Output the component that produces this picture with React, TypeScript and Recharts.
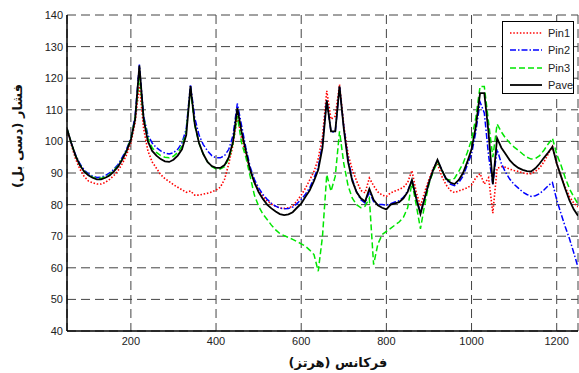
import React from 'react';
import {
  LineChart, Line, XAxis, YAxis, CartesianGrid,
} from 'recharts';

const FREQ = [
  50, 60, 70, 80, 90, 100, 110, 120, 130, 140, 150, 160, 170, 180, 190, 200, 210, 220, 230, 240,
  250, 260, 270, 280, 290, 300, 310, 320, 330, 340, 350, 360, 370, 380, 390, 400, 410, 420, 430, 440,
  450, 460, 470, 480, 490, 500, 510, 520, 530, 540, 550, 560, 570, 580, 590, 600, 610, 620, 630, 640,
  650, 660, 670, 680, 690, 700, 710, 720, 730, 740, 750, 760, 770, 780, 790, 800, 810, 820, 830, 840,
  850, 860, 870, 880, 890, 900, 910, 920, 930, 940, 950, 960, 970, 980, 990, 1000, 1010, 1020, 1030, 1040,
  1050, 1060, 1070, 1080, 1090, 1100, 1110, 1120, 1130, 1140, 1150, 1160, 1170, 1180, 1190, 1200, 1210, 1220, 1230, 1240,
  1250,
];

const PIN1 = [
  104, 99, 94.5, 91.3, 89, 87.5, 86.9, 86.5, 86.5, 87, 88, 89.2, 90.8, 93, 95.8, 99.5, 106, 118, 104, 97,
  93.5, 91.5, 89.5, 88.2, 87.3, 86.3, 85.5, 84.7, 83.9, 84.3, 83, 83, 83.3, 83.6, 84, 84.6, 85.5, 88, 93, 99,
  108, 101, 96, 91, 87, 84.5, 82.5, 81.2, 80.2, 79.4, 78.9, 78.8, 79, 79.5, 81.2, 83, 85.2, 87.8, 90.5, 94.5,
  101.5, 116, 107, 108, 118, 105, 96, 91, 87.5, 84.5, 83.7, 88.4, 86, 84, 83, 82.6, 83.7, 84.3, 84.8, 85.5,
  87, 90.8, 84, 79.5, 84, 88, 91.5, 93, 89, 86.3, 84.5, 83.8, 84.3, 84.8, 85.3, 86.2, 88.5, 89.8, 86.5, 88.5,
  77.3, 91.5, 92, 91.8, 91.2, 90.8, 90.5, 90, 89.8, 89.8, 90.5, 91.6, 93.5, 96, 98.4, 93, 89, 85.5, 82.5, 80.5,
  79.3,
];

const PIN2 = [
  104, 99.5, 95.8, 93, 91, 89.8, 89, 88.6, 88.7, 89.2, 90, 91.2, 92.7, 95, 97.6, 101, 108, 124.3, 108, 102,
  99.5, 98, 97, 96.3, 96, 96.4, 97.5, 99.5, 104, 118, 107.5, 102, 99, 97, 95.5, 94.8, 94.8, 95.5, 97.5, 102,
  112, 105, 98, 92, 88, 85.3, 83.2, 81.7, 80.4, 79.5, 78.9, 78.7, 78.8, 79.2, 80.3, 81.6, 83.3, 85.3, 88.4, 92,
  99, 113, 103, 103, 117.4, 104.5, 94.5, 88, 84, 81.5, 80.5, 84, 81, 80, 80, 79.8, 80.3, 80.8, 81.2, 82.3,
  84.3, 87.8, 82, 77.5, 82, 87, 91, 94, 91, 88, 86.5, 86, 87, 89, 92.5, 96, 103, 112.5, 109, 95.5,
  86.5, 97.5, 93, 90.2, 88, 86.4, 85.2, 84, 83.2, 82.6, 82.8, 83.5, 84.6, 86, 87, 81.5, 77.2, 73, 69.2, 64.8,
  60.2,
];

const PIN3 = [
  104, 99.5, 95.5, 92.6, 90.6, 89.5, 88.7, 88.3, 88.3, 88.8, 89.5, 90.8, 92.3, 94.5, 97.2, 100.8, 107.5, 121, 107.5, 101,
  98, 96.5, 95.5, 95, 94.8, 95.3, 96.5, 98.5, 103, 116.5, 105, 99.5, 96, 93.5, 92, 91.3, 91.3, 92, 94.5, 99.5,
  108, 99.5, 95, 89, 83, 79.5, 77, 75.3, 73.5, 72, 70.8, 70.2, 69.6, 69, 68.3, 67.6, 66.8, 65.6, 64.2, 58.9,
  70, 89.5, 84.2, 89, 103.2, 93, 86, 82, 80, 79, 79.5, 82, 61, 67.5, 70.5, 71.5, 72.5, 73.5, 74.5, 76,
  79, 87, 80, 72.3, 80, 86.5, 90.5, 93.5, 91, 88, 87.8, 88.3, 90.5, 93, 96.5, 100.5, 107.5, 117.4, 117.4, 106,
  95, 105.5, 103, 101, 99.5, 98.2, 97.2, 96, 95, 94.4, 94.6, 95.5, 97.2, 99.2, 101, 96, 92.5, 88.5, 85, 82.5,
  80.2,
];

const PAVE = [
  104, 99.5, 95.5, 92.5, 90.5, 89.3, 88.5, 88, 88, 88.5, 89.2, 90.5, 92, 94.3, 97, 100.5, 107, 124, 107, 100,
  97, 95.5, 94.4, 93.7, 93.5, 94.2, 95.5, 97.5, 102, 117.5, 105.5, 99.5, 96, 93.5, 92.2, 91.6, 91.6, 92.5, 95, 100,
  110.5, 103, 97, 91, 87, 84, 81.8, 80, 78.8, 77.8, 77, 76.7, 76.9, 77.6, 79, 80.3, 82.5, 84.5, 87.5, 91,
  98, 113, 103.2, 103.2, 117.4, 104, 93.5, 87.5, 84, 82, 81, 85, 81.5, 79.8, 79, 78.5, 80, 80.4, 80.8, 82,
  84, 87.8, 82, 77, 82, 87, 91, 94.2, 91, 88.3, 87, 86.5, 87.8, 90, 93.5, 97.5, 104.7, 115.3, 115.3, 102.6,
  86.5, 101, 98, 96, 94, 92.6, 91.6, 91, 90.6, 90.5, 91.5, 93, 94.8, 96.5, 98.3, 93, 89, 85, 81.3, 78.5,
  76.5,
];

const X_TICKS = [200, 400, 600, 800, 1000, 1200];
const Y_TICKS = [40, 50, 60, 70, 80, 90, 100, 110, 120, 130, 140];

const SERIES = [
  { key: 'pin1', name: 'Pin1', color: '#ff0000', dash: '1.5 1.8', width: 1.6 },
  { key: 'pin2', name: 'Pin2', color: '#0000ff', dash: '6 2 1.5 2', width: 1.5 },
  { key: 'pin3', name: 'Pin3', color: '#00e600', dash: '6 3', width: 1.5 },
  { key: 'pave', name: 'Pave', color: '#000000', dash: undefined, width: 1.8 },
];

const data = FREQ.map((f, i) => ({
  f, pin1: PIN1[i], pin2: PIN2[i], pin3: PIN3[i], pave: PAVE[i],
}));

const FONT = '"Liberation Sans", Arial, sans-serif';
const tickStyle = { fontSize: 11, fill: '#222', fontFamily: FONT };

// legend box sits over the top-right corner of the plot, like the MATLAB one
function LegendBox() {
  return (
    <div
      style={{
        position: 'absolute', left: 502, top: 21, width: 72, height: 73, background: '#fff',
        border: '1.5px solid #000', boxSizing: 'border-box', paddingTop: 2, fontFamily: FONT, fontSize: 11,
      }}
    >
      {SERIES.map((s) => (
        <div key={s.key} style={{ display: 'flex', alignItems: 'center', height: 17.5 }}>
          <svg width={40} height={6} style={{ marginLeft: 7 }}>
            <line x1={0} y1={3} x2={32} y2={3} stroke={s.color} strokeWidth={s.width} strokeDasharray={s.dash} />
          </svg>
          <span style={{ color: '#222', marginLeft: -2 }}>{s.name}</span>
        </div>
      ))}
    </div>
  );
}

export default function App() {
  return (
    <div style={{ position: 'absolute', left: 0, top: 0, width: 579, height: 373, background: '#fff' }}>
      <LineChart width={579} height={373} data={data} margin={{ top: 15, right: 1, bottom: 22, left: 20 }}>
        <CartesianGrid stroke="#444" strokeDasharray="9 5" />
        <XAxis
          dataKey="f" type="number" domain={[50, 1250]} ticks={X_TICKS} allowDataOverflow
          tick={tickStyle} tickLine={false} tickSize={4} tickMargin={2} height={20}
          axisLine={{ stroke: '#000', strokeWidth: 1.5 }}
        />
        <XAxis
          xAxisId="top" orientation="top" dataKey="f" type="number" domain={[50, 1250]}
          tick={false} tickLine={false} height={0} axisLine={{ stroke: '#000', strokeWidth: 1 }}
        />
        <YAxis
          domain={[40, 140]} ticks={Y_TICKS} allowDataOverflow
          tick={tickStyle} tickLine={false} tickSize={2} tickMargin={2} width={47}
          axisLine={{ stroke: '#000', strokeWidth: 1.5 }}
        />
        <YAxis
          yAxisId="right" orientation="right" domain={[40, 140]}
          tick={false} tickLine={false} width={0} axisLine={{ stroke: '#000', strokeWidth: 1 }}
        />
        {SERIES.map((s) => (
          <Line
            key={s.key} type="linear" dataKey={s.key} name={s.name} stroke={s.color}
            strokeWidth={s.width} strokeDasharray={s.dash} dot={false} isAnimationActive={false}
          />
        ))}
      </LineChart>
      <LegendBox />
      <div
        style={{
          position: 'absolute', left: 338, top: 362, transform: 'translate(-50%, -50%)',
          fontFamily: '"DejaVu Sans", sans-serif', fontWeight: 'bold', fontSize: 13, whiteSpace: 'nowrap', color: '#111',
        }}
      >
        فرکانس (هرتز)
      </div>
      <div
        style={{
          position: 'absolute', left: 17, top: 136, transform: 'translate(-50%, -50%) rotate(-90deg)',
          fontFamily: '"DejaVu Sans", sans-serif', fontWeight: 'bold', fontSize: 13, whiteSpace: 'nowrap', color: '#111',
        }}
      >
        فشار (دسی بل)
      </div>
    </div>
  );
}
